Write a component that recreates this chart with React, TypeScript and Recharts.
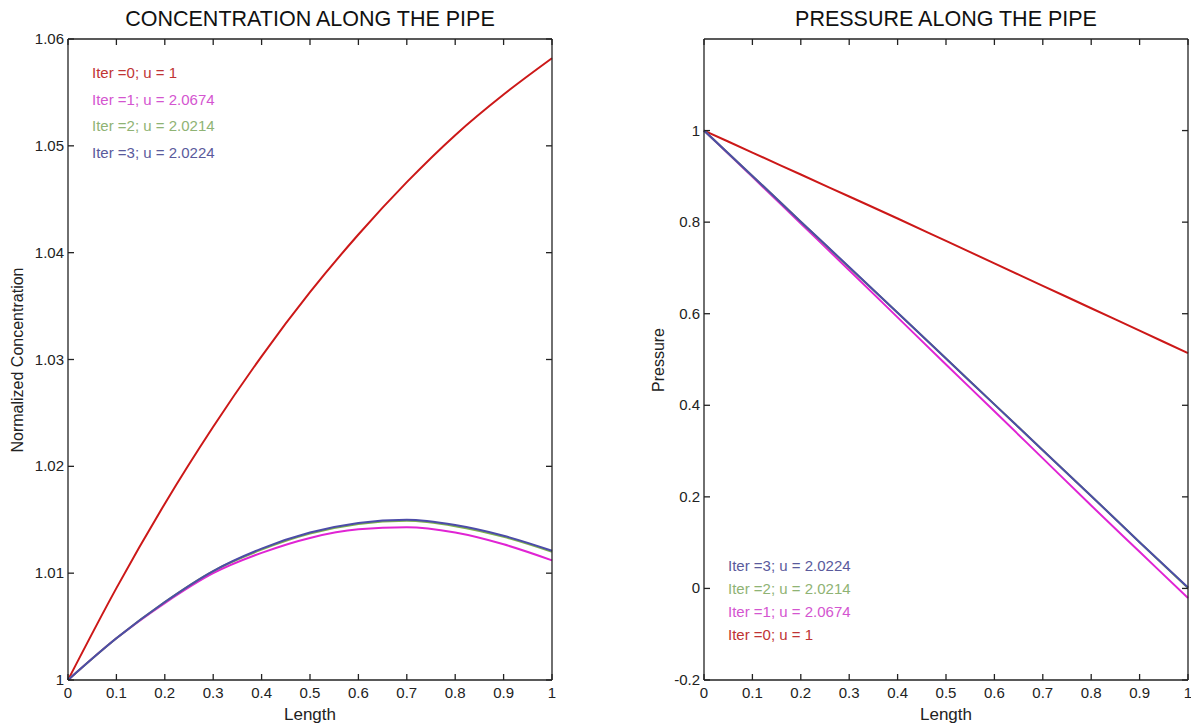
import React from "react";
import { LineChart, Line, XAxis, YAxis } from "recharts";

// positions along the pipe
const lengths = [0, 0.1, 0.2, 0.3, 0.4, 0.5, 0.6, 0.7, 0.8, 0.9, 1];

// normalized concentration, one array per iteration
const concIter0 = [1.0, 1.0086, 1.0165, 1.0237, 1.0303, 1.0363, 1.0417, 1.0466, 1.051, 1.0548, 1.0582];
const concIter1 = [1.0, 1.0039, 1.0072, 1.01, 1.0119, 1.0133, 1.0141, 1.0143, 1.0138, 1.0127, 1.0112];
const concIter2 = [1.0, 1.0039, 1.0073, 1.0102, 1.0122, 1.0137, 1.0146, 1.0149, 1.0144, 1.0134, 1.012];
const concIter3 = [1.0, 1.0039, 1.0073, 1.0102, 1.0123, 1.0138, 1.0147, 1.015, 1.0145, 1.0135, 1.0121];

// pressure, one array per iteration
const presIter0 = [1, 0.952, 0.904, 0.856, 0.808, 0.759, 0.71, 0.661, 0.612, 0.563, 0.514];
const presIter1 = [1, 0.899, 0.797, 0.695, 0.592, 0.489, 0.387, 0.284, 0.181, 0.08, -0.021];
const presIter2 = [1, 0.901, 0.801, 0.701, 0.602, 0.502, 0.402, 0.302, 0.202, 0.101, 0.001];
const presIter3 = [1, 0.901, 0.801, 0.702, 0.602, 0.502, 0.402, 0.302, 0.202, 0.101, 0.002];

const xTicks = [0, 0.1, 0.2, 0.3, 0.4, 0.5, 0.6, 0.7, 0.8, 0.9, 1];
const concTicks = [1, 1.01, 1.02, 1.03, 1.04, 1.05, 1.06];
const presTicks = [-0.2, 0, 0.2, 0.4, 0.6, 0.8, 1];

const iterLabels = ["Iter =0; u = 1", "Iter =1; u = 2.0674", "Iter =2; u = 2.0214", "Iter =3; u = 2.0224"];
const lineColors = ["#cc1818", "#e024d4", "#7fb24c", "#4c4ca8"];
const textColors = ["#c03434", "#d455d0", "#8fb374", "#5a5a9c"];

const FONT = '"Liberation Sans", Arial, Helvetica, sans-serif';
const AXIS = "#222";
const TICK_LEN = 6;

// plot box inside each 600x727 panel
const M = { top: 38, right: 47, bottom: 46, left: 67 };
const PLOT_H = 727 - M.top - M.bottom - 2;

const concData = lengths.map((x, i) => ({
  x,
  it0: concIter0[i],
  it1: concIter1[i],
  it2: concIter2[i],
  it3: concIter3[i],
}));

const presData = lengths.map((x, i) => ({
  x,
  it0: presIter0[i],
  it1: presIter1[i],
  it2: presIter2[i],
  it3: presIter3[i],
}));

const fmt = (v: number) => String(Math.round(v * 1000) / 1000);

const tickStyle = { stroke: AXIS, strokeWidth: 1.3 };
const axisStyle = { stroke: AXIS, strokeWidth: 1.3 };

// label for the bottom axis; the inward tick itself is the native tickLine
// (negative tickSize); the mirrored tick on the top edge is drawn here
function BottomTick(props: any) {
  const { x, y, payload } = props;
  const top = y - PLOT_H;
  return (
    <g>
      <path d={`M${x},${top}v${TICK_LEN}`} {...tickStyle} fill="none" />
      <text x={x} y={y + 18} textAnchor="middle" fontSize={15} fontFamily={FONT} fill="#222">
        {fmt(payload.value)}
      </text>
    </g>
  );
}

function LeftTick(props: any) {
  const { x, y, payload } = props;
  return (
    <text x={x - 4} y={y + 5} textAnchor="end" fontSize={15} fontFamily={FONT} fill="#222">
      {fmt(payload.value)}
    </text>
  );
}

function RightTick(props: any) {
  const { x, y } = props;
  return <line x1={x} y1={y} x2={x - TICK_LEN} y2={y} {...tickStyle} />;
}

function Panel({
  data,
  left,
  domain,
  yTicks,
}: {
  data: typeof concData;
  left: number;
  domain: [number, number];
  yTicks: number[];
}) {
  return (
    <div style={{ position: "absolute", left, top: 0 }}>
      <LineChart width={600} height={727} data={data} margin={M}>
        <XAxis
          dataKey="x"
          type="number"
          domain={[0, 1]}
          ticks={xTicks}
          height={1}
          tickSize={-TICK_LEN}
          tickMargin={TICK_LEN}
          tickLine={tickStyle}
          tick={BottomTick}
          axisLine={axisStyle}
          interval={0}
        />
        <XAxis
          xAxisId="top"
          orientation="top"
          dataKey="x"
          type="number"
          domain={[0, 1]}
          height={1}
          tick={false}
          tickLine={false}
          axisLine={axisStyle}
        />
        <YAxis
          type="number"
          domain={domain}
          ticks={yTicks}
          width={1}
          tickSize={-TICK_LEN}
          tickMargin={TICK_LEN}
          tickLine={tickStyle}
          tick={LeftTick}
          axisLine={axisStyle}
          interval={0}
          allowDataOverflow
        />
        <YAxis
          yAxisId="right"
          orientation="right"
          type="number"
          domain={domain}
          ticks={yTicks}
          width={1}
          tickSize={0}
          tickMargin={0}
          tickLine={false}
          tick={RightTick}
          axisLine={axisStyle}
          interval={0}
          allowDataOverflow
        />
        {["it0", "it1", "it2", "it3"].map((k, i) => (
          <Line
            key={k}
            type="monotone"
            dataKey={k}
            stroke={lineColors[i]}
            strokeWidth={2}
            dot={false}
            isAnimationActive={false}
          />
        ))}
      </LineChart>
    </div>
  );
}

const abs = (extra: React.CSSProperties): React.CSSProperties => ({
  position: "absolute",
  fontFamily: FONT,
  whiteSpace: "nowrap",
  lineHeight: 1,
  ...extra,
});

export default function App() {
  return (
    <div style={{ position: "absolute", left: 0, top: 0, width: 1191, height: 727, background: "#fff", overflow: "hidden" }}>
      <Panel data={concData} left={0} domain={[1, 1.06]} yTicks={concTicks} />
      <Panel data={presData} left={636} domain={[-0.2, 1.2]} yTicks={presTicks} />

      {/* titles */}
      <div style={abs({ left: 310, top: 20, transform: "translate(-50%,-50%)", fontSize: 21.5, color: "#111" })}>
        CONCENTRATION ALONG THE PIPE
      </div>
      <div style={abs({ left: 946, top: 20, transform: "translate(-50%,-50%)", fontSize: 21.5, color: "#111" })}>
        PRESSURE ALONG THE PIPE
      </div>

      {/* axis titles */}
      <div style={abs({ left: 310, top: 714, transform: "translate(-50%,-50%)", fontSize: 17, color: "#222" })}>Length</div>
      <div style={abs({ left: 946, top: 714, transform: "translate(-50%,-50%)", fontSize: 17, color: "#222" })}>Length</div>
      <div style={abs({ left: 18, top: 360, transform: "translate(-50%,-50%) rotate(-90deg)", fontSize: 16, color: "#222" })}>
        Normalized Concentration
      </div>
      <div style={abs({ left: 659, top: 360, transform: "translate(-50%,-50%) rotate(-90deg)", fontSize: 16, color: "#222" })}>
        Pressure
      </div>

      {/* iteration notes, left panel (top down 0..3) */}
      {iterLabels.map((t, i) => (
        <div key={"l" + t} style={abs({ left: 92, top: 72 + i * 26.7, transform: "translateY(-50%)", fontSize: 15, color: textColors[i] })}>
          {t}
        </div>
      ))}

      {/* iteration notes, right panel (top down 3..0) */}
      {iterLabels.map((t, i) => (
        <div key={"r" + t} style={abs({ left: 728, top: 634 - i * 23, transform: "translateY(-50%)", fontSize: 15, color: textColors[i] })}>
          {t}
        </div>
      ))}
    </div>
  );
}
